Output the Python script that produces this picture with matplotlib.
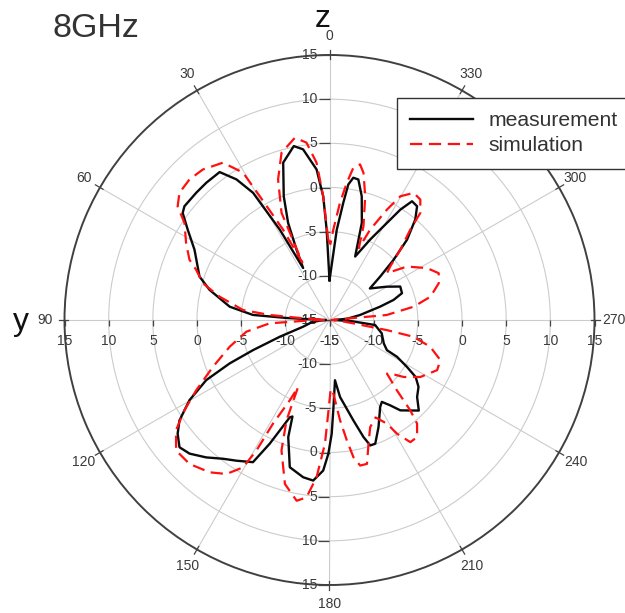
import numpy as np
import matplotlib
matplotlib.use("Agg")
import matplotlib.pyplot as plt
from matplotlib.markers import TICKLEFT, TICKDOWN

plt.rcParams['font.family'] = ['Liberation Sans', 'DejaVu Sans']

# Radiation pattern at 8 GHz, yz-plane: angle (deg) and gain (dB)
meas_deg = [0, 1.8, 2.9, 4.9, 8.8, 11.6, 16.4, 20.3, 23.1, 25.1,
            26.9, 28.8, 31.0, 33.5, 36.6, 41.9, 46.3, 51.9, 53.9, 57.5,
            62.5, 71.5, 75.9, 82.4, 86.2, 87.3, 87.8, 90.0, 93.0, 97.0,
            104.3, 108.6, 111.5, 113.5, 116.0, 119.8, 123.8, 126.8, 130.3, 133.7,
            138.1, 142.5, 146.5, 151.7, 154.2, 157.8, 159.0, 160.6, 164.9, 170.5,
            174.2, 177.6, 179.5, 181.1, 182.4, 185.2, 187.8, 193.4, 196.2, 198.0,
            200.3, 204.6, 210.2, 212.6, 215.4, 218.1, 224.6, 228.7, 233.1, 236.5,
            238.8, 241.4, 242.3, 246.6, 255.7, 263.7, 267.0, 270.0, 274.0, 279.3,
            284.8, 287.4, 290.3, 295.3, 300.2, 308.0, 310.6, 313.2, 316.0, 319.5,
            322.4, 325.2, 327.3, 329.4, 333.2, 338.0, 341.6, 345.4, 348.4, 350.5,
            352.1, 353.3, 355.4]
meas_db = [-10.5, -4.8, -1.0, 2.1, 4.55, 5.1, 3.57, -0.07, -3.06, -6.2,
           -8.4, -3.33, 1.8, 4.09, 5.86, 5.88, 5.86, 5.87, 5.57, 4.03,
           2.23, 0.52, -1.0, -3.6, -6.3, -10.1, -12.8, -14.6, -14.0, -13.0,
           -11.9, -9.07, -5.7, -2.67, 0.53, 3.27, 5.44, 6.47, 7.27, 6.9,
           5.9, 4.8, 4.1, 3.28, 0.56, -3.1, -3.3, -0.94, 2.26, 3.05,
           3.27, 2.06, 0.15, -2.1, -4.77, -8.15, -6.2, -3.3, -1.2, -0.07,
           -0.07, -1.67, -3.6, -4.0, -3.15, -2.0, -0.6, -1.8, -2.4, -3.3,
           -4.75, -6.3, -7.66, -8.3, -8.9, -9.8, -12.5, -14.5, -13.0, -11.5,
           -9.07, -7.4, -6.25, -6.14, -7.5, -9.2, -7.44, -5.05, -2.37, -0.05,
           1.25, 1.37, -0.15, -2.24, -4.8, -7.25, -3.4, -0.52, 1.24, 1.33,
           0.49, -1.65, -4.75]

sim_deg = [0.9, 2.9, 4.7, 7.4, 10.75, 16.0, 20.1, 24.1, 25.3, 27.2,
           29.4, 30.4, 34.1, 40.1, 44.9, 49.7, 53.2, 56.2, 61.8, 66.7,
           69.4, 73.8, 78.0, 83.4, 85.2, 86.3, 89.0, 90.8, 93.2, 98.0,
           105.0, 111.9, 117.8, 121.9, 125.7, 130.4, 135.8, 141.8, 146.2, 149.6,
           150.75, 151.4, 153.7, 154.9, 156.8, 159.8, 164.8, 169.7, 172.6, 175.3,
           177.9, 179.5, 181.0, 183.0, 186.0, 188.2, 189.9, 191.9, 194.6, 197.5,
           200.8, 205.3, 209.0, 210.7, 213.5, 216.8, 220.2, 221.8, 223.8, 227.0,
           228.6, 232.5, 237.9, 245.0, 250.1, 255.1, 258.7, 260.0, 262.0, 266.0,
           270.0, 275.0, 279.0, 283.0, 288.6, 293.2, 298.0, 304.6, 309.2, 311.4,
           314.8, 318.2, 319.7, 323.0, 326.5, 330.2, 332.5, 335.8, 337.8, 340.1,
           343.9, 347.0, 348.9, 351.1, 352.8, 354.9, 357.6, 359.3]
sim_db = [-5.9, -1.0, 2.86, 5.25, 6.0, 4.7, 1.94, -1.7, -7.8, -3.5,
          1.09, 4.34, 6.51, 7.27, 7.46, 7.27, 6.47, 4.76, 3.42, 2.26,
          1.12, -0.07, -2.27, -5.14, -8.2, -12.0, -14.6, -13.0, -8.2, -5.5,
          -3.3, -0.77, 2.06, 4.35, 6.4, 7.8, 7.73, 6.94, 5.98, 4.34,
          1.93, -1.64, -4.86, -6.6, -2.64, 0.74, 4.24, 5.8, 5.25, 2.86,
          -1.0, -5.0, -7.2, -6.66, -3.6, -1.23, 0.77, 1.84, 1.83, -0.31,
          -2.03, -2.8, -1.58, -0.03, 1.58, 1.56, 0.36, -1.28, -4.0, -6.1,
          -5.84, -4.4, -2.86, -1.56, -1.65, -3.2, -5.3, -8.4, -12.3, -14.0,
          -14.8, -8.5, -5.35, -3.27, -1.95, -1.55, -2.49, -4.34, -6.6, -5.84,
          -3.7, -1.28, 0.9, 2.08, 2.26, 1.14, -0.9, -3.8, -6.2, -3.7,
          -0.42, 2.1, 2.95, 2.45, 0.66, -1.68, -4.77, -6.4]

series_labels = ['measurement', 'simulation']
r_min, r_max = -15, 15
ring_values = [-10, -5, 0, 5, 10]
r_label_values = [-15, -10, -5, 0, 5, 10, 15]
angle_ticks = list(range(0, 360, 30))

W, H, DPI = 625, 613, 100
fig = plt.figure(figsize=(W / DPI, H / DPI), dpi=DPI)
cx, cy, R = 329.5, 320.0, 265.0
ax = fig.add_axes([(cx - R) / W, (H - cy - R) / H, 2 * R / W, 2 * R / H],
                  projection='polar')
ax.set_theta_zero_location('N')
ax.set_theta_direction(1)
ax.set_rlim(r_min, r_max)
ax.set_rticks(ring_values)
ax.set_thetagrids(angle_ticks)
ax.set_xticklabels([])
ax.set_yticklabels([])
ax.tick_params(length=0)
ax.grid(True, color='#cccccc', lw=0.8)
ax.spines['polar'].set_color('#404040')
ax.spines['polar'].set_linewidth(1.4)


def closed(deg, db):
    th = np.deg2rad(np.r_[deg, deg[0] + 360.0])
    return th, np.r_[db, db[0]]


th_m, r_m = closed(meas_deg, meas_db)
th_s, r_s = closed(sim_deg, sim_db)
ax.plot(th_m, r_m, color='#0a0a0a', lw=1.7, label=series_labels[0], zorder=4)
ax.plot(th_s, r_s, color='#ff1010', lw=1.6, ls=(0, (5.5, 3)),
        label=series_labels[1], zorder=5)

lab_kw = dict(fontsize=10, color='#3a3a3a', textcoords='offset points',
              annotation_clip=False)
tick_c = '#444444'

# radial scale along the vertical axis (up and down)
for ang in (0.0, np.pi):
    ax.plot([ang] * len(r_label_values), r_label_values, ls='none',
            marker=TICKLEFT, ms=8, mec=tick_c, mew=0.9, clip_on=False, zorder=3)
    for v in r_label_values:
        ax.annotate(f'{v}', xy=(ang, v), xytext=(-9, 0), ha='right',
                    va='center', **lab_kw)

# radial scale along the horizontal axis (left and right)
for ang in (np.pi / 2, 3 * np.pi / 2):
    ax.plot([ang] * len(r_label_values), r_label_values, ls='none',
            marker=TICKDOWN, ms=4, mec=tick_c, mew=0.9, clip_on=False, zorder=3)
    for v in r_label_values:
        ax.annotate(f'{v}', xy=(ang, v), xytext=(0, -15), ha='center',
                    va='center', **lab_kw)

# angle ticks and labels around the rim
for a in angle_ticks:
    t = np.deg2rad(a)
    ax.plot([t, t], [r_max - 0.4, r_max + 0.6], color=tick_c, lw=0.9,
            clip_on=False, zorder=3)
    ax.text(t, r_max + 2.15, f'{a}', ha='center', va='center', fontsize=10,
            color='#3a3a3a', clip_on=False)

leg = ax.legend(loc='upper left', bbox_to_anchor=(397 / W, 1 - 98 / H),
                bbox_transform=fig.transFigure, fontsize=15.2, frameon=True,
                fancybox=False, edgecolor='#333333', framealpha=1,
                borderpad=0.62, borderaxespad=0, handlelength=3.0,
                handletextpad=0.7, labelspacing=0.3)
leg.get_frame().set_linewidth(1.0)
for t in leg.get_texts():
    t.set_color('#333333')
leg.set_zorder(10)

fig.text(52 / W, 1 - 37 / H, '8GHz', fontsize=24.5, color='#333333',
         ha='left', va='baseline')
fig.text(322.5 / W, 1 - 27 / H, 'z', fontsize=23, color='#111111',
         ha='center', va='baseline')
fig.text(21 / W, 1 - 330 / H, 'y', fontsize=23, color='#111111',
         ha='center', va='baseline')

fig.savefig('out.png', dpi=DPI)
